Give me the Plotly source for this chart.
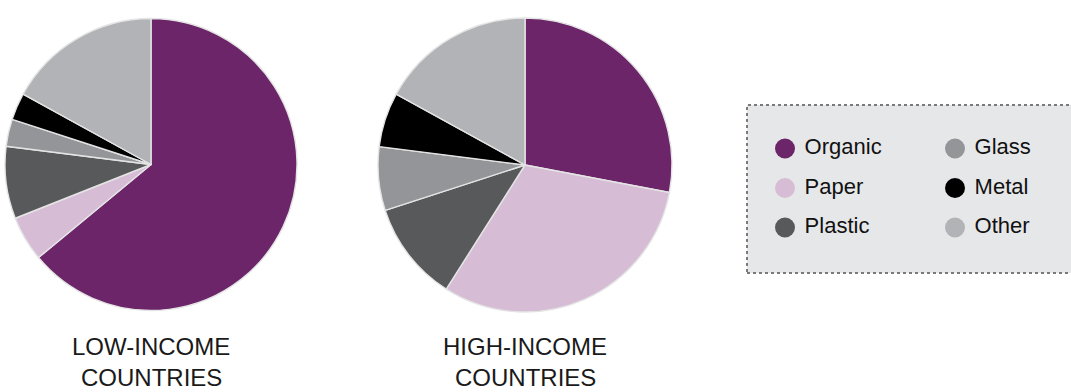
import plotly.graph_objects as go

# ---- data ----
categories = ["Organic", "Paper", "Plastic", "Glass", "Metal", "Other"]
low_income = [64, 5, 8, 3, 3, 17]
high_income = [28, 31, 11, 7, 6, 17]
group_labels = ["LOW-INCOME", "HIGH-INCOME"]
group_labels_2 = ["COUNTRIES", "COUNTRIES"]
colors = ["#6B2568", "#D6BDD5", "#58595B", "#939598", "#000000", "#B1B3B6"]

W, H = 1071, 392
FONT = "Liberation Sans, Arial, sans-serif"
LEG_FONT = "Liberation Sans, Arial, sans-serif"

def px_x(p):
    return p / W

def px_y(p):
    return 1 - p / H

fig = go.Figure()

pies = [(low_income, 151, 164.5, 146), (high_income, 525, 165, 147)]
for vals, cx, cy, r in pies:
    fig.add_trace(go.Pie(
        labels=categories, values=vals, sort=False, direction="clockwise",
        rotation=0, textinfo="none", hoverinfo="label+percent",
        marker=dict(colors=colors, line=dict(color="#E4E4E4", width=1.4)),
        domain=dict(x=[px_x(cx - r), px_x(cx + r)], y=[px_y(cy + r), px_y(cy - r)]),
        showlegend=False,
    ))

# custom legend (2 columns x 3 rows) drawn on a hidden axis
col = [i // 3 for i in range(len(categories))]
row = [i % 3 for i in range(len(categories))]
fig.add_trace(go.Scatter(
    x=col, y=row, mode="markers+text", text=[" " + c for c in categories],
    textposition="middle right",
    marker=dict(size=20, color=colors, line=dict(width=0)),
    textfont=dict(family=LEG_FONT, size=22, color="#111111"),
    hoverinfo="skip", showlegend=False, xaxis="x", yaxis="y",
))

# legend box geometry in pixels
bx0, by0, bx1, by1 = 747, 105, W + 5, 273
cx0, cx1 = 785, 955
ry0, rstep = 148.5, 39.5
x_per = cx1 - cx0
fig.update_layout(
    xaxis=dict(domain=[px_x(bx0), 1], range=[(bx0 - cx0) / x_per, (W - cx0) / x_per],
               visible=False, fixedrange=True),
    yaxis=dict(domain=[px_y(by1), px_y(by0)],
               range=[(by1 - ry0) / rstep, (by0 - ry0) / rstep],
               visible=False, fixedrange=True),
)

fig.add_shape(type="rect", xref="paper", yref="paper",
              x0=px_x(bx0), x1=px_x(bx1), y0=px_y(by1), y1=px_y(by0),
              fillcolor="#E6E7E8", line=dict(color="#7A7A7A", width=2, dash="dot"),
              layer="below")

for lab, lab2, (vals, cx, cy, r) in zip(group_labels, group_labels_2, pies):
    fig.add_annotation(text=lab, x=px_x(cx), y=px_y(346), xref="paper", yref="paper",
                       xanchor="center", yanchor="middle", showarrow=False,
                       font=dict(family=FONT, size=24, color="#1a1a1a"))
    fig.add_annotation(text=lab2, x=px_x(cx), y=px_y(392), xref="paper", yref="paper",
                       xanchor="center", yanchor="bottom", showarrow=False, borderpad=0,
                       font=dict(family=FONT, size=24, color="#1a1a1a"))

fig.update_layout(
    width=W, height=H, margin=dict(l=0, r=0, t=0, b=0),
    paper_bgcolor="white", plot_bgcolor="rgba(0,0,0,0)",
)

fig.write_html("out.html", config={"displayModeBar": False},
               post_script="document.body.style.margin='0';document.body.style.overflow='hidden';")
